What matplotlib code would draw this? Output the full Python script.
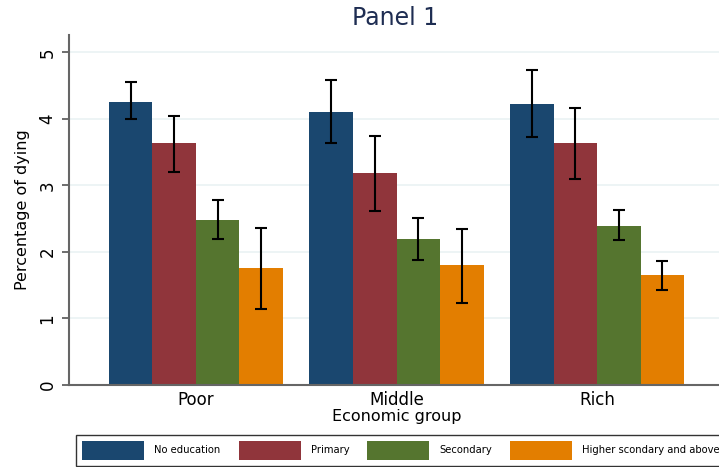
import numpy as np
import matplotlib
matplotlib.use('Agg')
import matplotlib.pyplot as plt

groups = ['Poor', 'Middle', 'Rich']
levels = ['No education', 'Primary', 'Secondary', 'Higher scondary and above']
colors = ['#1a476f', '#90353b', '#55752f', '#e37e00']

# mean percentage of dying, by group (rows = education level)
means = [
    [4.26, 4.11, 4.23],
    [3.63, 3.18, 3.63],
    [2.48, 2.19, 2.39],
    [1.76, 1.80, 1.65],
]
ci_lo = [
    [4.00, 3.63, 3.72],
    [3.20, 2.61, 3.09],
    [2.19, 1.88, 2.18],
    [1.14, 1.23, 1.43],
]
ci_hi = [
    [4.55, 4.59, 4.73],
    [4.04, 3.74, 4.17],
    [2.78, 2.51, 2.63],
    [2.36, 2.34, 1.86],
]

fig = plt.figure(figsize=(7.19, 4.67), dpi=100)
ax = fig.add_axes([69/719, 82/467, 655/719, 350/467])

x = np.arange(len(groups))
w = 0.217
for i in range(len(levels)):
    pos = x + (i - 1.5) * w
    m = np.array(means[i])
    lo = m - np.array(ci_lo[i])
    hi = np.array(ci_hi[i]) - m
    ax.bar(pos, m, width=w, color=colors[i], label=levels[i], zorder=2)
    ax.errorbar(pos, m, yerr=[lo, hi], fmt='none', ecolor='black',
                elinewidth=1.5, capsize=4.5, capthick=1.5, zorder=3)

ax.set_xlim(-0.633, 2.633)
ax.set_ylim(0, 5.26)
ax.set_yticks([0, 1, 2, 3, 4, 5])
ax.set_yticklabels(['0', '1', '2', '3', '4', '5'], rotation=90, va='center', fontsize=12)
ax.set_xticks(x)
ax.set_xticklabels(groups, fontsize=12)
ax.tick_params(axis='x', length=0, pad=4)
ax.tick_params(axis='y', length=5, color='#555555', width=1.2, pad=4)
ax.grid(axis='y', color='#eaf2f3', linewidth=1.2, zorder=0)
ax.set_axisbelow(True)
for s in ['top', 'right']:
    ax.spines[s].set_visible(False)
for s in ['left', 'bottom']:
    ax.spines[s].set_color('#666666')
    ax.spines[s].set_linewidth(1.5)

ax.set_ylabel('Percentage of dying', fontsize=11.5, labelpad=6)
ax.set_xlabel('Economic group', fontsize=11.5, labelpad=0)
fig.text(395/719, 1 - 18/467, 'Panel 1', ha='center', va='center',
         fontsize=17, color='#1e2d52')

leg = fig.legend(loc='lower left', bbox_to_anchor=(76/719, 1/467, 650/719, 32/467),
                 mode='expand', ncol=4, fontsize=7.2, frameon=True, fancybox=False,
                 handlelength=6.2, handleheight=2.6, borderaxespad=0,
                 handletextpad=1.0, columnspacing=1.0, borderpad=0.6)
leg.get_frame().set_edgecolor('black')
leg.get_frame().set_linewidth(1.0)

fig.savefig('out.png', dpi=100)
